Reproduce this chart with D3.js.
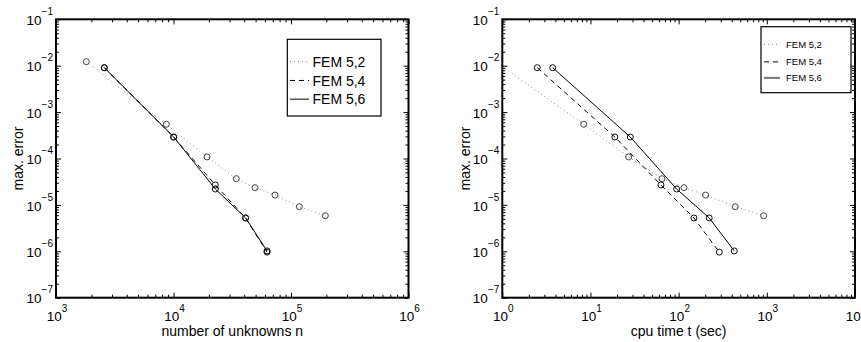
<!DOCTYPE html>
<html><head><meta charset="utf-8">
<script src="https://cdn.jsdelivr.net/npm/d3@7/dist/d3.min.js"></script>
<style>body{margin:0;background:#fff;} svg{display:block;font-family:"Liberation Sans",Arial,sans-serif;}</style>
</head><body>
<svg id="c" width="861" height="342"></svg>
<script>
// ---- data ----
const seriesNames = ["FEM 5,2", "FEM 5,4", "FEM 5,6"];
const unknowns52 = [1811, 8690, 19290, 34270, 49400, 73100, 117800, 196000];
const unknowns54 = [2576, 10040, 22700, 41100, 62500];
const unknowns56 = [2576, 10040, 22700, 41100, 62500];
const cpu52 = [0.835, 8.37, 27.1, 64.7, 115, 202, 438, 920];
const cpu54 = [2.49, 18.9, 63, 149, 289];
const cpu56 = [3.73, 28.3, 94.9, 222, 427];
const error52 = [0.0122, 5.46e-4, 1.08e-4, 3.67e-5, 2.35e-5, 1.63e-5, 9.14e-6, 5.85e-6];
const error54 = [9.06e-3, 2.9e-4, 2.69e-5, 5.23e-6, 0.96e-6];
const error56 = [9.06e-3, 2.9e-4, 2.2e-5, 5.23e-6, 1.02e-6];
const yTickExp = [-7, -6, -5, -4, -3, -2, -1];
const xTickExpLeft = [3, 4, 5, 6];
const xTickExpRight = [0, 1, 2, 3, 4];
const xTitleLeft = "number of unknowns n";
const xTitleRight = "cpu time t (sec)";
const yTitle = "max. error";

const svg = d3.select("#c");
const styles = [
  {stroke:"#8a8a8a", dash:"1,3", width:1},
  {stroke:"#000", dash:"5,4", width:1},
  {stroke:"#000", dash:null, width:1}
];

function minorsFor(exps){
  const m=[];
  for(let i=0;i<exps.length-1;i++) for(let k=2;k<=9;k++) m.push(k*Math.pow(10,exps[i]));
  return m;
}

function panel(opt){
  const {x0,x1,y0,y1,xExp,series,xTitle,yTitleX,legend,id} = opt;
  const x = d3.scaleLog().domain([Math.pow(10,xExp[0]), Math.pow(10,xExp[xExp.length-1])]).range([x0,x1]);
  const y = d3.scaleLog().domain([1e-7,1e-1]).range([y1,y0]);
  const g = svg.append("g");
  const xMaj = xExp.map(e=>Math.pow(10,e)), yMaj = yTickExp.map(e=>Math.pow(10,e));
  const xMin = minorsFor(xExp), yMin = minorsFor(yTickExp);
  function ax(gen, tr, vals, size){
    const a = g.append("g").attr("transform",tr).call(gen.tickValues(vals).tickSize(size).tickFormat(""));
    a.select(".domain").remove();
    a.selectAll("line").attr("stroke","#000").attr("stroke-width",1);
  }
  ax(d3.axisBottom(x), `translate(0,${y1})`, xMaj, -5);
  ax(d3.axisBottom(x), `translate(0,${y1})`, xMin, -3);
  ax(d3.axisTop(x), `translate(0,${y0})`, xMaj, -5);
  ax(d3.axisTop(x), `translate(0,${y0})`, xMin, -3);
  ax(d3.axisLeft(y), `translate(${x0},0)`, yMaj, -5);
  ax(d3.axisLeft(y), `translate(${x0},0)`, yMin, -3);
  ax(d3.axisRight(y), `translate(${x1},0)`, yMaj, -5);
  ax(d3.axisRight(y), `translate(${x1},0)`, yMin, -3);

  // clip
  svg.append("clipPath").attr("id",id).append("rect").attr("x",x0).attr("y",y0).attr("width",x1-x0).attr("height",y1-y0);
  const pg = g.append("g").attr("clip-path",`url(#${id})`);
  const line = d3.line().x(d=>x(d[0])).y(d=>y(d[1]));
  series.forEach((s,i)=>{
    const pts = s.x.map((v,j)=>[v,s.y[j]]);
    const st = styles[i];
    pg.append("path").attr("d",line(pts)).attr("fill","none").attr("stroke",st.stroke)
      .attr("stroke-width",st.width).attr("stroke-dasharray",st.dash);
  });
  series.forEach((s,i)=>{
    const pts = s.x.map((v,j)=>[v,s.y[j]]);
    pg.selectAll(null).data(pts).enter().append("circle")
      .attr("cx",d=>x(d[0])).attr("cy",d=>y(d[1])).attr("r",3)
      .attr("fill","none").attr("stroke", i===0? "#444":"#111").attr("stroke-width",1);
  });

  // box
  g.append("rect").attr("x",x0).attr("y",y0).attr("width",x1-x0).attr("height",y1-y0)
    .attr("fill","none").attr("stroke","#000").attr("stroke-width",2);

  // tick labels
  xExp.forEach(e=>{
    const t = g.append("text").attr("x",x(Math.pow(10,e))+1).attr("y",y1+23.5)
      .attr("text-anchor","middle").attr("font-size",13.5).attr("fill","#000");
    t.append("tspan").text("10");
    t.append("tspan").attr("dy",-9).attr("font-size",10).text(String(e).replace("-","\u2212"));
  });
  yTickExp.forEach(e=>{
    const t = g.append("text").attr("x",x0-3).attr("y",y(Math.pow(10,e))+5.7)
      .attr("text-anchor","end").attr("font-size",13.5).attr("fill","#000");
    t.append("tspan").text("10");
    t.append("tspan").attr("dy",-10).attr("font-size",10).text(String(e).replace("-","\u2212"));
  });
  // titles
  g.append("text").attr("x",(x0+x1)/2).attr("y",335.5).attr("text-anchor","middle")
    .attr("font-size",14).text(xTitle);
  g.append("text").attr("transform",`translate(${yTitleX},${(y0+y1)/2}) rotate(-90)`)
    .attr("text-anchor","middle").attr("font-size",14).text(yTitle);

  // legend
  const L = legend;
  g.append("rect").attr("x",L.x).attr("y",L.y).attr("width",L.w).attr("height",L.h)
    .attr("fill","#fff").attr("stroke","#000").attr("stroke-width",1.2);
  seriesNames.forEach((n,i)=>{
    const by = L.base[i];
    const st = L.styles[i];
    g.append("line").attr("x1",L.lx0).attr("x2",L.lx1).attr("y1",by-L.fs*0.36).attr("y2",by-L.fs*0.36)
      .attr("stroke",st.stroke).attr("stroke-width",st.width).attr("stroke-dasharray",st.dash);
    g.append("text").attr("x",L.tx).attr("y",by).attr("font-size",L.fs).text(n);
  });
}

panel({
  id:"clipL", x0:56, x1:408.5, y0:19.3, y1:297.7, xExp:xTickExpLeft,
  series:[{x:unknowns52,y:error52},{x:unknowns54,y:error54},{x:unknowns56,y:error56}],
  xTitle:xTitleLeft, yTitleX:23,
  legend:{x:287.3,y:39.3,w:93.7,h:76.7,lx0:290,lx1:309,tx:312.5,fs:14,base:[66.7,85.5,104.2],
    styles:[{stroke:"#8a8a8a",dash:"1,3",width:1},{stroke:"#000",dash:"5,4",width:1},{stroke:"#000",dash:null,width:1}]}
});
panel({
  id:"clipR", x0:502.3, x1:855, y0:19.3, y1:297.7, xExp:xTickExpRight,
  series:[{x:cpu52,y:error52},{x:cpu54,y:error54},{x:cpu56,y:error56}],
  xTitle:xTitleRight, yTitleX:470,
  legend:{x:761,y:26.7,w:90,h:66,lx0:764,lx1:780,tx:786,fs:9.5,base:[47.8,65.3,81.3],
    styles:[{stroke:"#8a8a8a",dash:"1,3",width:1},{stroke:"#000",dash:"5,4",width:1},{stroke:"#777",dash:null,width:2}]}
});
</script>
</body></html>
